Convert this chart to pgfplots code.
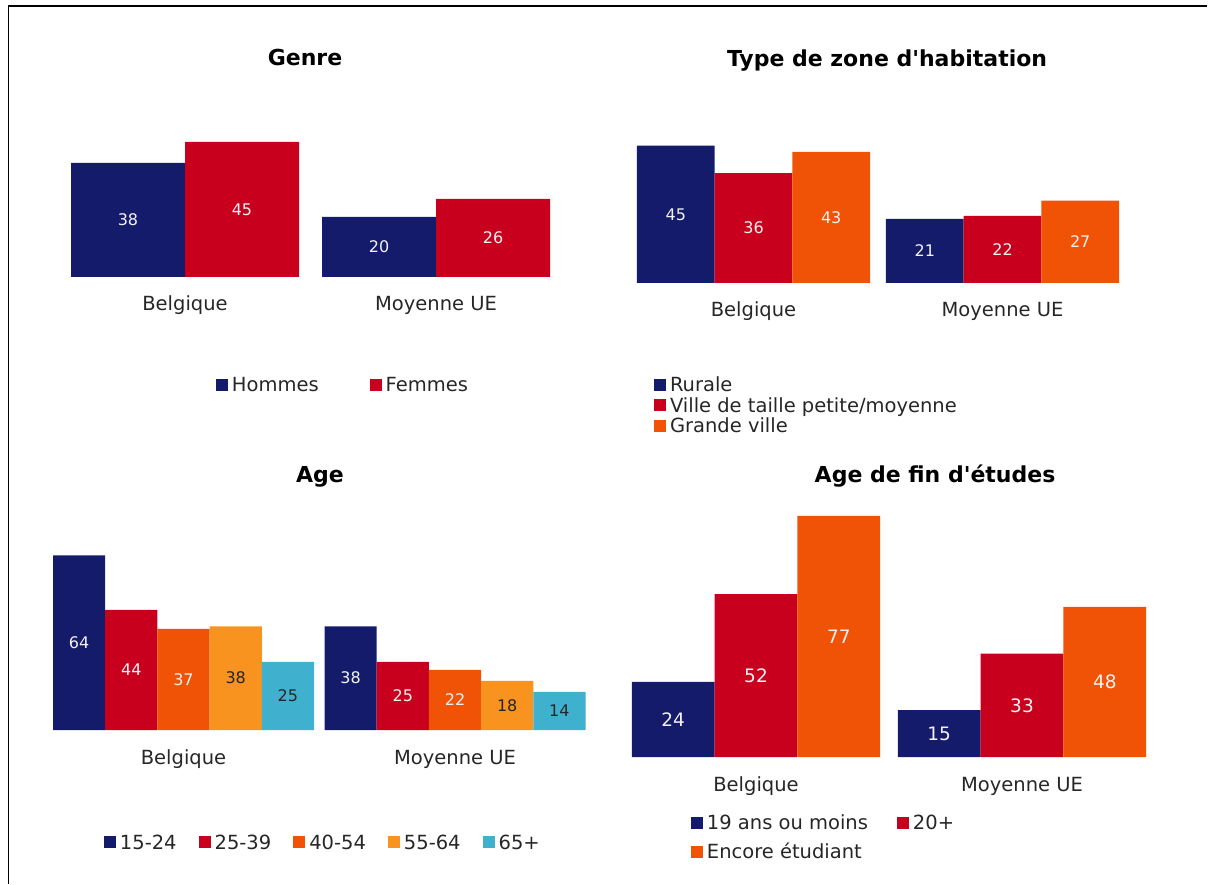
\documentclass[border=0pt]{standalone}
\usepackage{fontspec}
\setmainfont{DejaVu Sans}
\usepackage{pgfplots}
\pgfplotsset{compat=1.18}

\definecolor{cNavy}{HTML}{141B6B}
\definecolor{cRed}{HTML}{C8001E}
\definecolor{cOrange}{HTML}{F05206}
\definecolor{cAmber}{HTML}{F7931E}
\definecolor{cCyan}{HTML}{3FB1CE}
\definecolor{txt}{HTML}{262626}

\newcommand\labelfont{\fontsize{19.5}{23}\selectfont}
\newcommand\titlefont{\fontsize{22}{26}\selectfont\bfseries}
\newcommand\valfont{\fontsize{16}{19}\selectfont}
\newcommand\bigvalfont{\fontsize{18.5}{22}\selectfont}

\pgfplotsset{
  /pgf/number format/assume math mode=true,
  panel/.style={
    scale only axis, x=1pt, xmin=0, xmax=1212, ymin=0,
    anchor=south west, clip=false,
    axis line style={draw=none}, major tick length=0pt, ytick=\empty,
    xticklabel style={anchor=base, yshift=-34pt, font=\labelfont, text=txt},
    title style={anchor=base, yshift=-7pt, font=\titlefont, text=black},
    legend style={anchor=north west, draw=none, fill=none, inner sep=0pt,
      outer sep=0pt, font=\labelfont, text=txt,
      nodes={inner sep=0pt, text height=14pt, text depth=4.5pt}, row sep=2pt},
    legend cell align=left,
    nodes near coords,
    visualization depends on={rawy \as \rawy},
    every node near coord/.append style={anchor=center,
      shift={(axis direction cs:0,-\rawy/2)}, font=\valfont, text=white!95!black},
  },
  bars/.style 2 args={ybar, bar width=#1pt, bar shift=#2pt, draw=none,
    every node near coord/.append style={xshift=#2pt},
    legend image code/.code={\fill[##1] (0pt,-4pt) rectangle (12pt,8pt);}},
  darklabel/.style={every node near coord/.append style={text=txt}},
}

\begin{document}
\begin{tikzpicture}
\useasboundingbox (0,0) rectangle (1212pt,884pt);
\draw[line width=1.5pt, black] (8.5pt,0pt) -- (8.5pt,878pt) -- (1207pt,878pt);

% Genre
\begin{axis}[panel, at={(0pt,607pt)}, y=3pt, ymax=50,
  xtick={185,436}, xticklabels={Belgique, Moyenne UE},
  title={Genre}, title style={at={(0.2517,1.4133)}},
  legend columns=2,
  legend style={at={(0.1782,-0.6733)},
    /tikz/every odd column/.append style={column sep=4pt},
    /tikz/every even column/.append style={column sep=51pt}}]
\addplot[bars={114}{-57}, fill=cNavy] coordinates {(185,38) (436,20)};
\addplot[bars={114}{57}, fill=cRed] coordinates {(185,45) (436,26)};
\legend{Hommes, Femmes}
\end{axis}

% Type de zone d'habitation
\begin{axis}[panel, at={(0pt,601pt)}, y=3.05pt, ymax=50,
  xtick={753.5,1002.5}, xticklabels={Belgique, Moyenne UE},
  title={Type de zone d\textquotesingle{}habitation}, title style={at={(0.7319,1.4295)}},
  legend style={at={(0.5396,-0.6197)},
    /tikz/every odd column/.append style={column sep=4pt}}]
\addplot[bars={77.7}{-77.7}, fill=cNavy] coordinates {(753.5,45) (1002.5,21)};
\addplot[bars={77.7}{0}, fill=cRed] coordinates {(753.5,36) (1002.5,22)};
\addplot[bars={77.7}{77.7}, fill=cOrange] coordinates {(753.5,43) (1002.5,27)};
\legend{Rurale, Ville de taille petite/moyenne, Grande ville}
\end{axis}

% Age
\begin{axis}[panel, at={(0pt,154pt)}, y=2.73pt, ymax=70,
  xtick={183.5,455}, xticklabels={Belgique, Moyenne UE},
  title={Age}, title style={at={(0.2640,1.3030)}},
  legend columns=5,
  legend style={at={(0.0858,-0.5495)},
    /tikz/every odd column/.append style={column sep=4pt},
    /tikz/every even column/.append style={column sep=22pt}}]
\addplot[bars={52.2}{-104.4}, fill=cNavy] coordinates {(183.5,64) (455,38)};
\addplot[bars={52.2}{-52.2}, fill=cRed] coordinates {(183.5,44) (455,25)};
\addplot[bars={52.2}{0}, fill=cOrange] coordinates {(183.5,37) (455,22)};
\addplot[bars={52.2}{52.2}, fill=cAmber, darklabel] coordinates {(183.5,38) (455,18)};
\addplot[bars={52.2}{104.4}, fill=cCyan, darklabel] coordinates {(183.5,25) (455,14)};
\legend{15-24, 25-39, 40-54, 55-64, 65+}
\end{axis}

% Age de fin d'etudes
\begin{axis}[panel, at={(0pt,127pt)}, y=3.13pt, ymax=80,
  xtick={756,1022}, xticklabels={Belgique, Moyenne UE},
  every node near coord/.append style={font=\bigvalfont},
  title={Age de fin d\textquotesingle{}études}, title style={at={(0.7715,1.1022)}},
  legend columns=2,
  legend style={at={(0.5701,-0.2356)}, row sep=10.5pt,
    /tikz/every odd column/.append style={column sep=4pt},
    /tikz/every even column/.append style={column sep=29pt}}]
\addplot[bars={82.8}{-82.8}, fill=cNavy] coordinates {(756,24) (1022,15)};
\addplot[bars={82.8}{0}, fill=cRed] coordinates {(756,52) (1022,33)};
\addplot[bars={82.8}{82.8}, fill=cOrange] coordinates {(756,77) (1022,48)};
\legend{19 ans ou moins, 20+, Encore étudiant}
\end{axis}
\end{tikzpicture}
\end{document}
